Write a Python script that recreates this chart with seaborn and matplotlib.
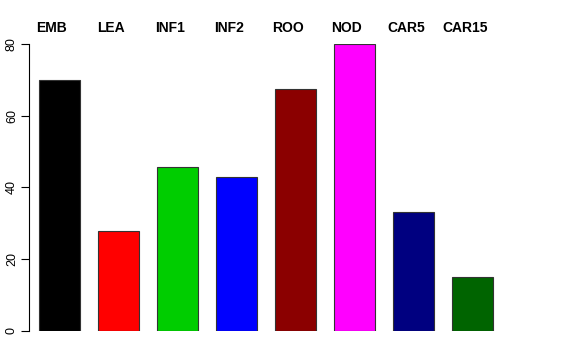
import matplotlib
matplotlib.use("Agg")
import matplotlib.pyplot as plt
import matplotlib.transforms as mtransforms
import seaborn as sns
import pandas as pd

# values
tissues = ["EMB", "LEA", "INF1", "INF2", "ROO", "NOD", "CAR5", "CAR15"]
values = [70.0, 27.9, 45.7, 42.9, 67.4, 80.0, 33.2, 15.0]
colors = ["#000000", "#FF0000", "#00CD00", "#0000FF",
          "#8B0000", "#FF00FF", "#000080", "#006400"]
y_ticks = [0, 20, 40, 60, 80]

sns.set_style("white")
plt.rcParams["font.family"] = ["Liberation Sans", "DejaVu Sans"]
plt.rcParams["text.color"] = "black"
plt.rcParams["ytick.color"] = "black"
plt.rcParams["ytick.labelcolor"] = "black"

df = pd.DataFrame({"tissue": tissues, "value": values})

fig = plt.figure(figsize=(5.76, 3.6), dpi=100)
ax = fig.add_axes([29 / 576, 1 - 331 / 360, (520 - 29) / 576, (331 - 44) / 360])

sns.barplot(data=df, x="tissue", y="value", hue="tissue", palette=colors,
            legend=False, width=0.695, edgecolor="#333333", linewidth=0.8,
            saturation=1, ax=ax)

ax.set_xlim(-0.517, 7.805)
ax.set_ylim(0, 80)
ax.set_xlabel("")
ax.set_ylabel("")
ax.set_xticks([])
ax.set_yticks(y_ticks)
ax.set_yticklabels([str(t) for t in y_ticks], rotation=90, va="center",
                   fontsize=9, color="black")
ax.tick_params(axis="y", direction="out", length=6, width=0.8, color="black",
               left=True, pad=2)
for side in ["top", "right", "bottom"]:
    ax.spines[side].set_visible(False)
ax.spines["left"].set_color("black")
ax.spines["left"].set_linewidth(0.8)

# tissue names above the plot area
trans = mtransforms.blended_transform_factory(ax.transData, fig.transFigure)
for i, name in enumerate(tissues):
    ax.text(i - 0.13, 1 - 28 / 360, name, transform=trans, ha="center",
            va="center", fontsize=10, fontweight="bold", color="black")

fig.savefig("out.png", dpi=100)
